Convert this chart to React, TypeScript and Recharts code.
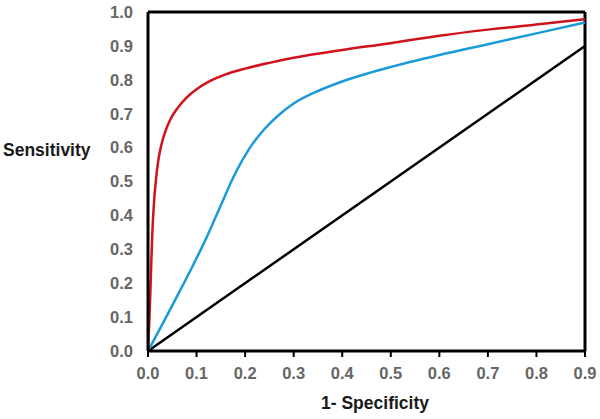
import React from "react";
import { LineChart, Line, XAxis, YAxis, ReferenceLine } from "recharts";

const xTicks = [0, 0.1, 0.2, 0.3, 0.4, 0.5, 0.6, 0.7, 0.8, 0.9];
const yTicks = [0, 0.1, 0.2, 0.3, 0.4, 0.5, 0.6, 0.7, 0.8, 0.9, 1.0];

const fprRed = [0, 0.003, 0.005, 0.007, 0.009, 0.012, 0.016, 0.021, 0.027, 0.035, 0.045, 0.06, 0.08, 0.1, 0.13, 0.16, 0.2, 0.25, 0.3, 0.4, 0.5, 0.6, 0.7, 0.8, 0.9];
const tprRed = [0, 0.1, 0.18, 0.27, 0.35, 0.43, 0.5, 0.56, 0.605, 0.645, 0.68, 0.715, 0.748, 0.772, 0.798, 0.816, 0.833, 0.85, 0.865, 0.888, 0.908, 0.93, 0.948, 0.963, 0.979];

const fprBlue = [0, 0.03, 0.06, 0.09, 0.12, 0.15, 0.18, 0.21, 0.24, 0.27, 0.3, 0.35, 0.4, 0.45, 0.5, 0.6, 0.7, 0.8, 0.9];
const tprBlue = [0, 0.08, 0.162, 0.245, 0.333, 0.43, 0.525, 0.6, 0.655, 0.697, 0.73, 0.767, 0.795, 0.818, 0.838, 0.873, 0.905, 0.937, 0.969];

const fprRef = [0, 0.9];
const tprRef = [0, 0.9];

const redData = fprRed.map((x, i) => ({ x, y: tprRed[i] }));
const blueData = fprBlue.map((x, i) => ({ x, y: tprBlue[i] }));
const refData = fprRef.map((x, i) => ({ x, y: tprRef[i] }));

const tickStyle = { fontFamily: "'Liberation Sans', Arial, sans-serif", fontWeight: 700, fontSize: 16.5, fill: "#666666" };
const labelFont = "'Liberation Sans', Arial, sans-serif";

export default function App() {
  return (
    <div style={{ position: "absolute", left: 0, top: 0, width: 600, height: 419, background: "#fff" }}>
      <LineChart width={600} height={419} margin={{ top: 12, right: 15, bottom: 8, left: 0 }}>
        <XAxis
          type="number"
          dataKey="x"
          domain={[0, 0.9]}
          ticks={xTicks}
          tickFormatter={(v: number) => v.toFixed(1)}
          allowDataOverflow
          height={60}
          axisLine={{ stroke: "#000", strokeWidth: 3 }}
          tickLine={{ stroke: "#000", strokeWidth: 2 }}
          tickSize={6}
          tickMargin={10}
          tick={tickStyle}
          label={{
            content: () => (
              <text x={375} y={409} textAnchor="middle" fontFamily={labelFont} fontWeight={700} fontSize={17.5} fill="#1a1a1a">
                1- Specificity
              </text>
            ),
          }}
        />
        <YAxis
          type="number"
          domain={[0, 1]}
          ticks={yTicks}
          tickFormatter={(v: number) => v.toFixed(1)}
          allowDataOverflow
          width={148}
          axisLine={{ stroke: "#000", strokeWidth: 3 }}
          tickLine={false}
          tickSize={0}
          tickMargin={15}
          tick={tickStyle}
          label={{
            content: () => (
              <text x={3} y={156} textAnchor="start" fontFamily={labelFont} fontWeight={700} fontSize={17.5} fill="#1a1a1a">
                Sensitivity
              </text>
            ),
          }}
        />
        <ReferenceLine y={1} stroke="#000" strokeWidth={3} ifOverflow="visible" />
        <ReferenceLine x={0.9} stroke="#000" strokeWidth={3} ifOverflow="visible" />
        <Line data={refData} dataKey="y" type="linear" stroke="#000" strokeWidth={2.5} dot={false} isAnimationActive={false} />
        <Line data={blueData} dataKey="y" type="monotone" stroke="#1a9bd7" strokeWidth={2.5} dot={false} isAnimationActive={false} />
        <Line data={redData} dataKey="y" type="monotone" stroke="#d0121b" strokeWidth={2.5} dot={false} isAnimationActive={false} />
      </LineChart>
    </div>
  );
}
